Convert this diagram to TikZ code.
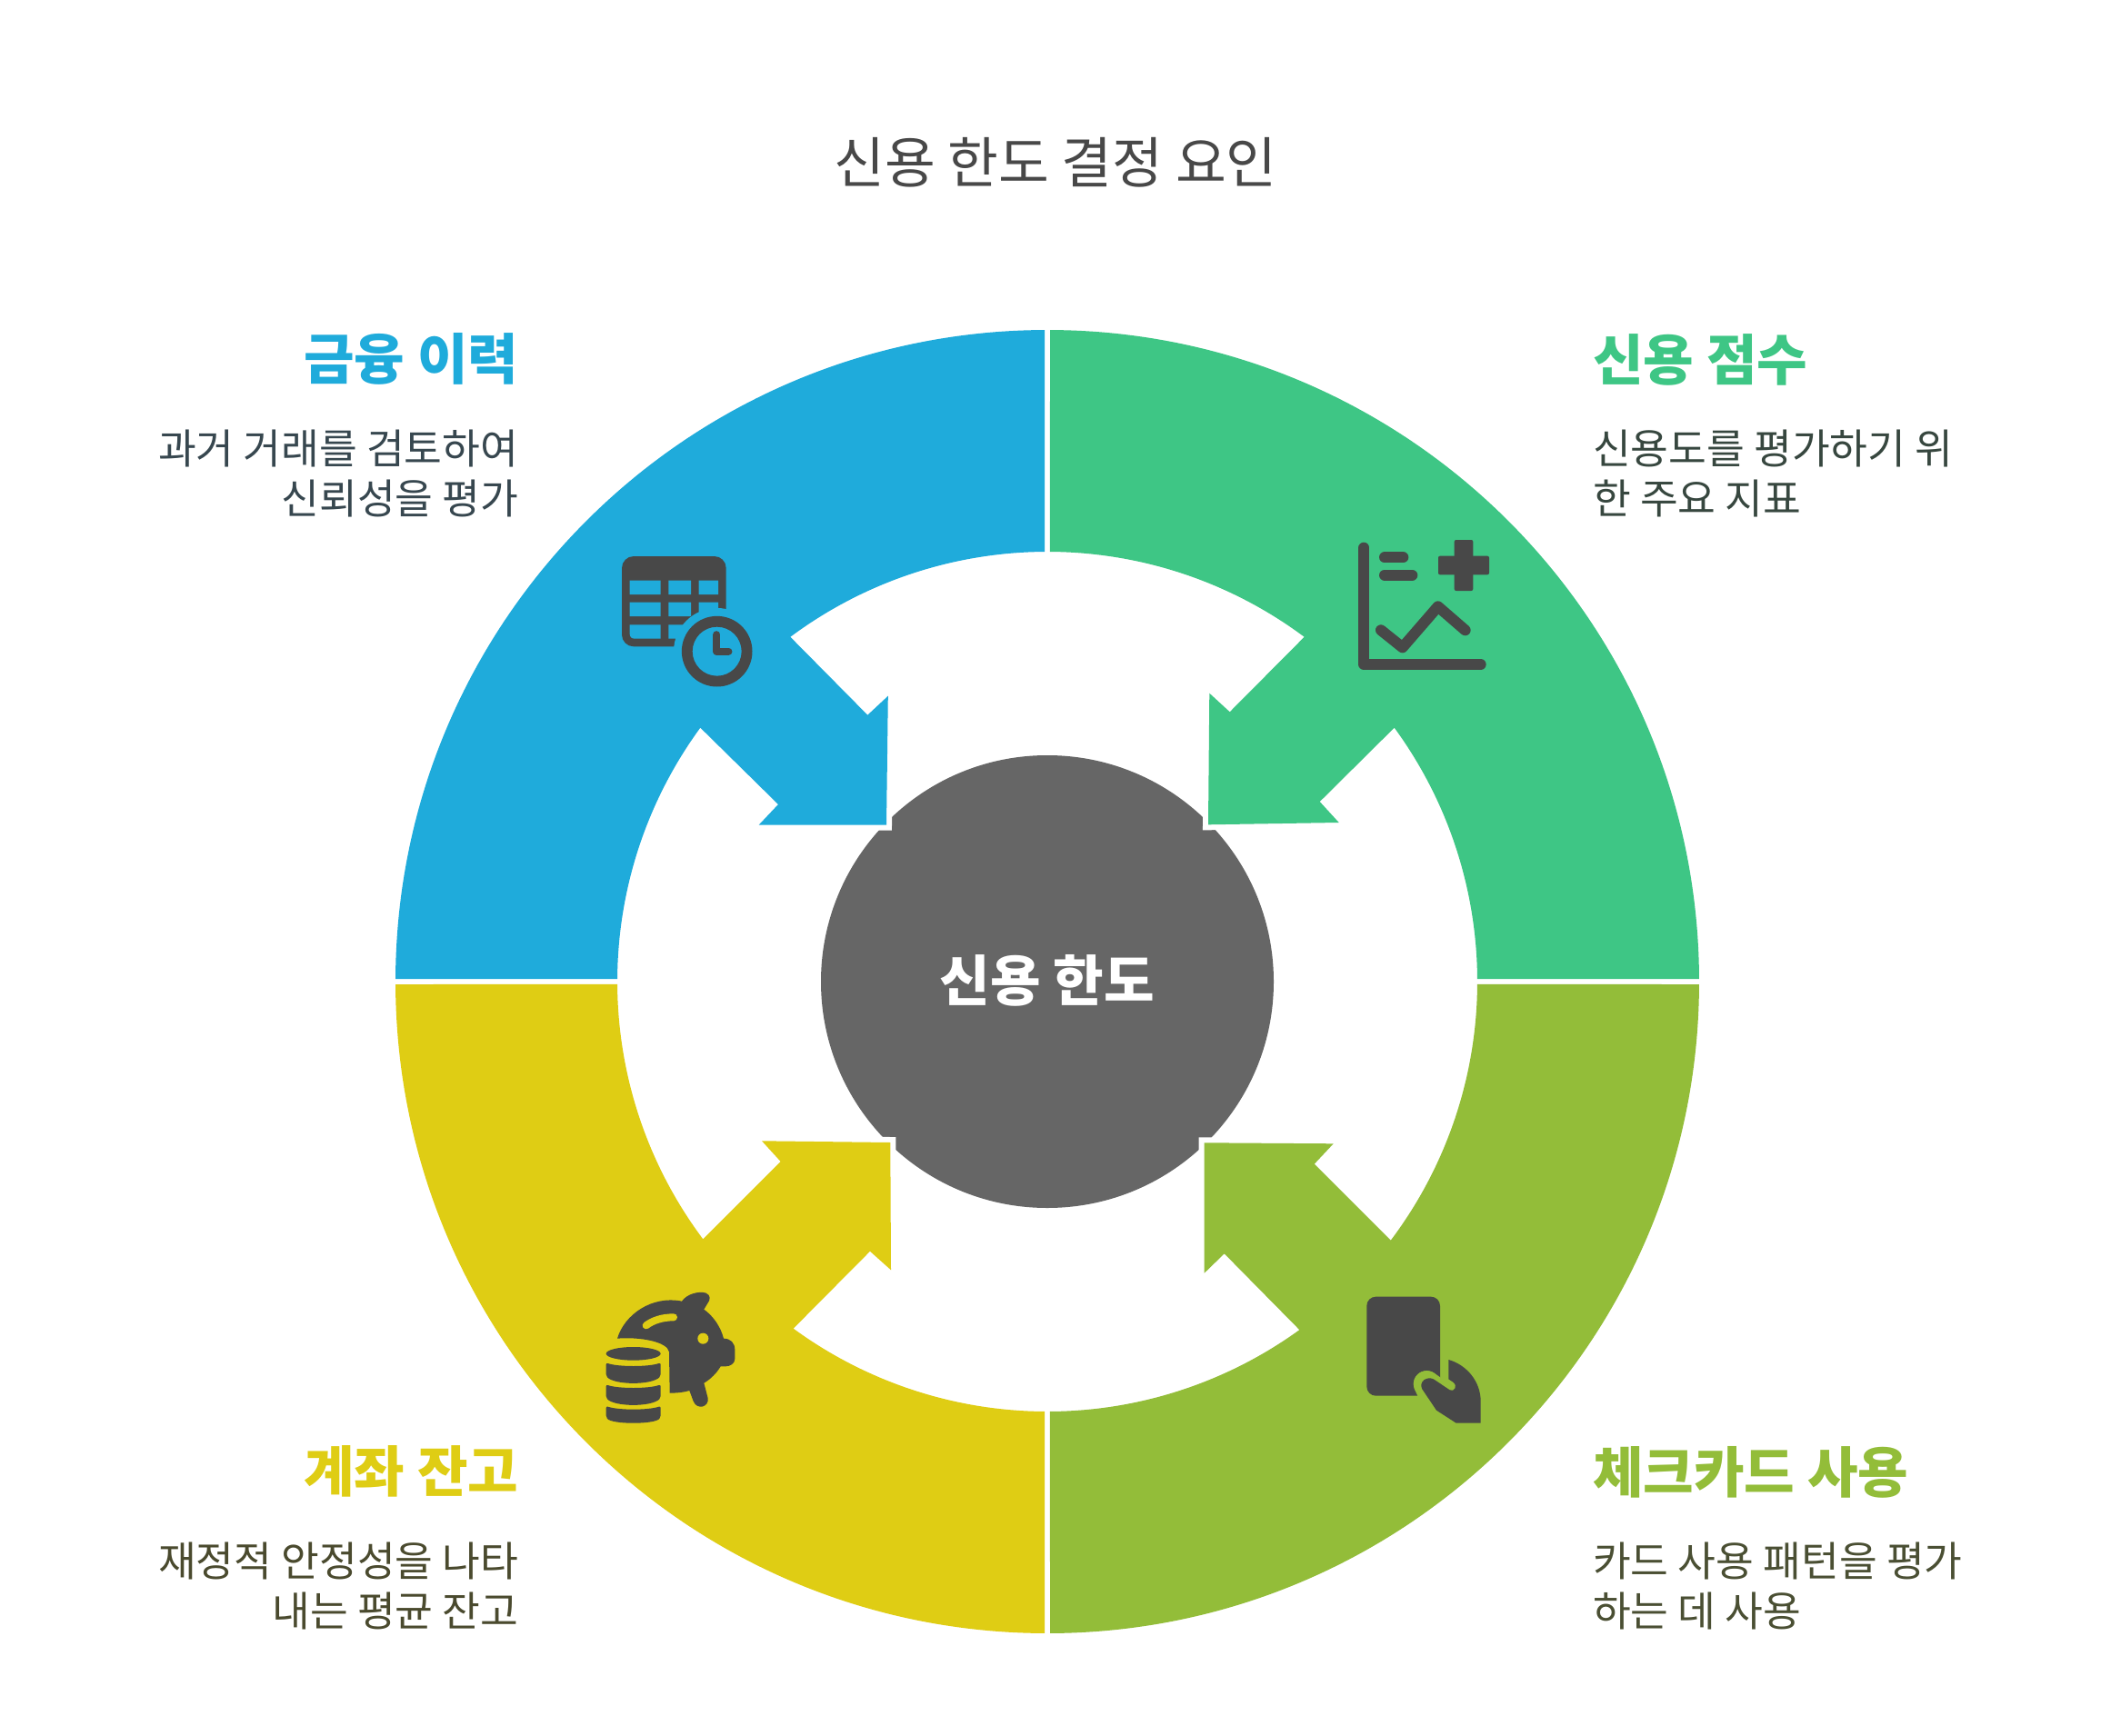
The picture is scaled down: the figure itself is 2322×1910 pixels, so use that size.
\documentclass[tikz,border=0pt]{standalone}
\usepackage{fontspec}
\setmainfont{Noto Sans CJK KR}
\definecolor{cblue}{HTML}{1FABDB}
\definecolor{cgreen}{HTML}{3EC685}
\definecolor{clime}{HTML}{93BD39}
\definecolor{cyell}{HTML}{DFCD14}
\definecolor{cgray}{HTML}{666666}
\definecolor{cink}{HTML}{484848}
\definecolor{tblue}{HTML}{37474F}
\definecolor{tgreen}{HTML}{37473F}
\definecolor{tlime}{HTML}{4A4F33}
\definecolor{tyell}{HTML}{4A4A2E}
\tikzset{
  heading/.style={inner sep=0pt,font=\fontsize{60.4}{72}\selectfont\bfseries},
  bodytext/.style={inner sep=0pt,font=\fontsize{45.4}{54.5}\selectfont},
  halo/.style={draw=white,line width=12pt,line join=miter},
  zoomed/.style={x=0.33333pt,y=-0.33333pt},
  inkline/.style={draw=cink,line width=12pt,line cap=round,line join=round}
}
\begin{document}
\begin{tikzpicture}[x=1pt,y=-1pt]
\useasboundingbox (0,0) rectangle (2322,1910);
\fill[white] (0,0) rectangle (2322,1910);
\coordinate (c) at (1152,1080);
% centre
\fill[cgray] (c) circle (249);
% white outlines around the arrow heads
\draw[halo] (976.8,765.7) -- (975,907.7) -- (834.6,907.7);
\draw[halo] (1330.3,762.7) -- (1329,907.3) -- (1472.7,905);
\draw[halo] (1324.7,1400.7) -- (1324.7,1257.3) -- (1466.7,1258.3);
\draw[halo] (838,1255.3) -- (979.3,1257) -- (980,1397.3);
% sectors
\begin{scope}[shift={(1152,1080)}]
\fill[cblue] (180.24:717) arc[start angle=180.24,end angle=269.76,radius=717]
  -- (269.64:473) arc[start angle=269.64,end angle=233.3,radius=473]
  -- ([shift={(-1152,-1080)}]954.3,786.7) -- ([shift={(-1152,-1080)}]976.8,765.7)
  -- ([shift={(-1152,-1080)}]975,907.7) -- ([shift={(-1152,-1080)}]834.6,907.7)
  -- ([shift={(-1152,-1080)}]856,885) -- (216.2:473)
  arc[start angle=216.2,end angle=180.36,radius=473] -- cycle;
\fill[cgreen] (270.24:717) arc[start angle=270.24,end angle=359.76,radius=717]
  -- (359.64:473) arc[start angle=359.64,end angle=323.8,radius=473]
  -- ([shift={(-1152,-1080)}]1451.7,882) -- ([shift={(-1152,-1080)}]1472.7,905)
  -- ([shift={(-1152,-1080)}]1329,907.3) -- ([shift={(-1152,-1080)}]1330.3,762.7)
  -- ([shift={(-1152,-1080)}]1352.7,783.3) -- (306.7:473)
  arc[start angle=306.7,end angle=270.36,radius=473] -- cycle;
\fill[clime] (0.24:717) arc[start angle=0.24,end angle=89.76,radius=717]
  -- (89.64:473) arc[start angle=89.64,end angle=54.1,radius=473]
  -- ([shift={(-1152,-1080)}]1346.7,1379.3) -- ([shift={(-1152,-1080)}]1324.7,1400.7)
  -- ([shift={(-1152,-1080)}]1324.7,1257.3) -- ([shift={(-1152,-1080)}]1466.7,1258.3)
  -- ([shift={(-1152,-1080)}]1445.7,1280.7) -- (37:473)
  arc[start angle=37,end angle=0.36,radius=473] -- cycle;
\fill[cyell] (90.24:717) arc[start angle=90.24,end angle=179.76,radius=717]
  -- (179.64:473) arc[start angle=179.64,end angle=143.2,radius=473]
  -- ([shift={(-1152,-1080)}]858.7,1278) -- ([shift={(-1152,-1080)}]838,1255.3)
  -- ([shift={(-1152,-1080)}]979.3,1257) -- ([shift={(-1152,-1080)}]980,1397.3)
  -- ([shift={(-1152,-1080)}]957,1376.7) -- (126.2:473)
  arc[start angle=126.2,end angle=90.36,radius=473] -- cycle;
\end{scope}
% table with clock icon
\begin{scope}[shift={(660,590)},zoomed]
\fill[cink,rounded corners=13pt] (72,66) rectangle (416,364);
\fill[cblue] (98,146) rectangle (200,192) (226,146) rectangle (300,192) (326,146) rectangle (390,192)
  (98,218) rectangle (200,264) (226,218) rectangle (300,264) (326,218) rectangle (390,264)
  (226,292) rectangle (300,338);
\fill[cblue] (98,292) -- (200,292) -- (200,338) -- (114,338) .. controls (104,338) and (98,332) .. (98,322) -- cycle;
\fill[cblue] (386,380) circle (143);
\fill[cink,even odd rule] (386,380) circle (116.5) (386,380) circle (81);
\draw[cink,line width=8.3pt,line cap=round,line join=round] (385,325) -- (385,380) -- (424,380);
\end{scope}
% chart with plus icon
\begin{scope}[shift={(1440,560)},zoomed]
\draw[inkline] (181,128) -- (181,513) -- (566,513);
\draw[inkline] (249,160) -- (310,160);
\draw[inkline] (249,218) -- (340,218);
\draw[inkline] (237,400) -- (308,457) -- (425,322) -- (515,400);
\fill[cink,rounded corners=2pt] (426,155) rectangle (594,217);
\fill[cink,rounded corners=2pt] (479,102) rectangle (541,270);
\end{scope}
% piggy bank with coins icon
\begin{scope}[shift={(640,1400)},zoomed]
\fill[cink] (117,218) .. controls (140,140) and (230,75) .. (330,95)
  .. controls (345,72) and (385,60) .. (410,68)
  .. controls (425,75) and (425,90) .. (415,102) -- (403,122)
  .. controls (435,145) and (458,180) .. (468,218)
  .. controls (490,218) and (505,232) .. (505,255) -- (505,285)
  .. controls (505,300) and (490,310) .. (475,310) -- (458,310)
  .. controls (445,332) and (425,352) .. (403,365)
  -- (416,415) .. controls (420,445) and (380,455) .. (368,425)
  -- (355,390) .. controls (335,396) and (312,398) .. (290,398)
  -- (288,262) .. controls (282,228) and (190,212) .. (117,218) -- cycle;
\fill[cyell] (400,218) circle (18);
\draw[cyell,line width=8pt,line cap=round] (212,175) .. controls (235,158) and (265,148) .. (303,148);
\fill[cink] (170,268) ellipse (90 and 22);
\fill[cink,rounded corners=2pt] (80,298) .. controls (120,312) and (220,312) .. (260,298) -- (260,342) .. controls (230,372) and (110,372) .. (80,342) -- cycle;
\fill[cink,rounded corners=2pt] (80,370) .. controls (120,384) and (220,384) .. (260,370) -- (260,414) .. controls (230,444) and (110,444) .. (80,414) -- cycle;
\fill[cink,rounded corners=2pt] (80,441) .. controls (120,455) and (220,455) .. (260,441) -- (260,478) .. controls (240,502) and (100,502) .. (80,478) -- cycle;
\end{scope}
% card in hand icon
\begin{scope}[shift={(1480,1400)},zoomed]
\fill[cink,rounded corners=10pt] (70,80) rectangle (312,407);
\draw[clime,line width=29pt,line cap=round] (268,368) -- (350,425);
\draw[clime,line width=29pt,line cap=round] (268,368) -- (300,440);
\fill[cink] (340,288) .. controls (400,305) and (446,360) .. (446,425) -- (446,497) -- (365,497)
  -- (300,455) -- (253,385) .. controls (240,360) and (270,340) .. (292,353)
  -- (344,388) .. controls (358,396) and (372,375) .. (355,362) -- (340,352) -- cycle;
\end{scope}
% texts
\node[inner sep=0pt,anchor=base,text=cink,font=\fontsize{60.7}{72}\selectfont] (title) at (1161,202) {신용 한도 결정 요인};
\node[heading,anchor=base,text=white] (hub) at (1152,1101) {신용 한도};
\node[heading,anchor=base east,text=cblue] (h1) at (570.5,417) {금융 이력};
\node[bodytext,anchor=north east,align=right,text=tblue] (b1) at (570.5,472.5) {\strut 과거 거래를 검토하여\\\strut 신뢰성을 평가};
\node[heading,anchor=base west,text=cgreen] (h2) at (1752,418) {신용 점수};
\node[bodytext,anchor=north west,align=left,text=tgreen] (b2) at (1752,472.5) {\strut 신용도를 평가하기 위\\\strut 한 주요 지표};
\node[heading,anchor=base east,text=cyell] (h3) at (570.5,1641) {계좌 잔고};
\node[bodytext,anchor=north east,align=right,text=tyell] (b3) at (570.5,1696.5) {\strut 재정적 안정성을 나타\\\strut 내는 평균 잔고};
\node[heading,anchor=base west,text=clime] (h4) at (1752,1642) {체크카드 사용};
\node[bodytext,anchor=north west,align=left,text=tlime] (b4) at (1752,1696.5) {\strut 카드 사용 패턴을 평가\\\strut 하는 데 사용};
\end{tikzpicture}
\end{document}
